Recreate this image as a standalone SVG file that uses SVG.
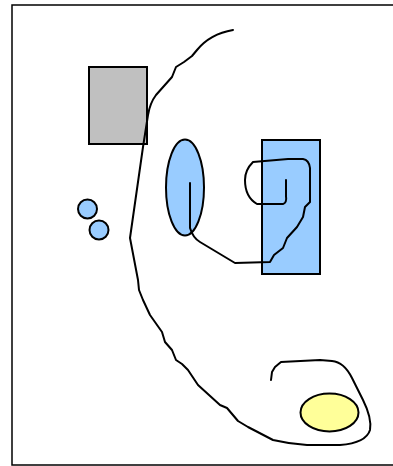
<svg xmlns="http://www.w3.org/2000/svg" width="393" height="466" viewBox="0 0 393 466">
<style>
.s{stroke:#000;stroke-width:2}
.ln{fill:none;stroke:#000;stroke-width:2;stroke-linejoin:round;stroke-linecap:round}
.blue{fill:#99ccff}
</style>
<rect x="0" y="0" width="393" height="466" fill="#fff"/>
<rect x="12" y="5" width="400" height="460" fill="#fff" stroke="#000" stroke-width="1.5"/>
<g id="gray-box"><rect class="s" x="89" y="67" width="58" height="77" fill="#c0c0c0"/></g>
<g id="blue-ellipse"><ellipse class="s blue" cx="185" cy="187.5" rx="19" ry="48"/></g>
<g id="blue-box"><rect class="s blue" x="262" y="140" width="58" height="134"/></g>
<g id="circle1"><circle class="s blue" cx="87.5" cy="209" r="9.5"/></g>
<g id="circle2"><circle class="s blue" cx="99" cy="230" r="9.5"/></g>
<g id="yellow-ellipse"><ellipse class="s" cx="329.5" cy="412.5" rx="29" ry="19" fill="#ffff99"/></g>
<g id="connectors">
<path class="ln" d="M233,30 Q210,34 197,50 L192,56 L184,62 L176,67 L172,77 L164,86 L156,95 Q150,103 148,115 L143,147 L130,238 L138,280 L139,290 L143,300 L150,315 L162,332 L165,342 L172,350 L176,360 L182,364 L188,370 L198,385 L220,405 L227,408 L238,421 L248,427 L273,440 Q290,444 307,445 L340,445 Q366,443 370,430 Q372,418 363,400 L352,378 Q344,362 332,361 L320,360 L281,362 L275,367 L272,372 L271,380"/>
<path class="ln" d="M190,183 L190,228 Q193,238 200,242 L235,263 L270,262 L274,255 L283,248 L287,238 L297,227 L303,217 L305,207 L310,202 L310,168 Q309,160 303,159 L288,159 L253,162 Q245,170 245,180 Q245,197 257,204 L283,204 Q287,203 286,196 L286,180"/>
</g>
</svg>
